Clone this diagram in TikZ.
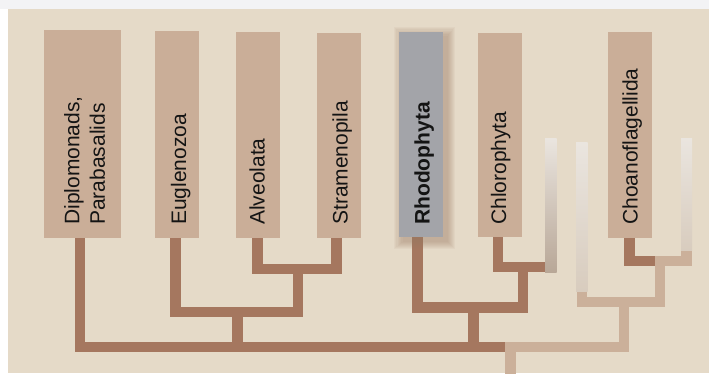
\documentclass[tikz,border=0pt]{standalone}
\usepackage{fontspec}
\setmainfont{Liberation Sans}
\usetikzlibrary{calc}
\pgfdeclarelayer{back}
\pgfdeclarelayer{lines}
\pgfsetlayers{back,lines,main}

\definecolor{paper}{HTML}{E5DAC8}
\definecolor{strip}{HTML}{F3F3F5}
\definecolor{boxfill}{HTML}{CAAE98}
\definecolor{rhodofill}{HTML}{A3A4A9}
\definecolor{branchc}{HTML}{A5775F}
\definecolor{faintc}{HTML}{CBB09A}
\definecolor{fadetop}{HTML}{EAE5DF}
\definecolor{fadedark}{HTML}{B8A797}
\definecolor{fadelight}{HTML}{D8CCBE}
\definecolor{shadowc}{HTML}{9C7A62}
\definecolor{ink}{HTML}{141414}

\begin{document}
\begin{tikzpicture}[x=1pt,y=-1pt,
  taxon/.style={fill=boxfill, inner sep=0pt, anchor=north west},
  taxonname/.style={inner sep=0pt, rotate=90, text=ink,
    font=\fontsize{21}{25.5}\selectfont},
  branch/.style={draw=branchc, line width=10.6pt},
  faint/.style={draw=faintc, line width=10.6pt}]

% page and paper
\useasboundingbox (0,0) rectangle (709,373);
\begin{pgfonlayer}{back}
  \fill[white] (0,0) rectangle (709,373);
  \fill[strip] (0,0) rectangle (709,9);
  \fill[paper] (8,9) rectangle (709,373);
\end{pgfonlayer}

% taxon boxes
\node[taxon, minimum width=77pt, minimum height=208pt] (b1) at (44,30) {};
\node[taxon, minimum width=44pt, minimum height=207pt] (b2) at (155,31) {};
\node[taxon, minimum width=44pt, minimum height=206pt] (b3) at (236,32) {};
\node[taxon, minimum width=44pt, minimum height=205pt] (b4) at (317,33) {};
\node[taxon, fill=rhodofill, minimum width=44pt, minimum height=205pt] (b5) at (399,32) {};
\node[taxon, minimum width=44pt, minimum height=204pt] (b6) at (478,33) {};
\node[taxon, minimum width=44pt, minimum height=206pt] (b7) at (608,32) {};

% taxon names
\node[taxonname, anchor=north west, align=left] (t1) at (64,225) {Diplomonads,\\Parabasalids};
\node[taxonname, anchor=base west] (t2) at (186,225) {Euglenozoa};
\node[taxonname, anchor=base west] (t3) at (264.5,225) {Alveolata};
\node[taxonname, anchor=base west] (t4) at (347.5,225) {Stramenopila};
\node[taxonname, anchor=base west, font=\fontsize{21}{25.5}\selectfont\bfseries] (t5) at (429.5,225) {Rhodophyta};
\node[taxonname, anchor=base west] (t6) at (506,225) {Chlorophyta};
\node[taxonname, anchor=base west] (t7) at (637.5,225) {Choanoflagellida};

% branching points
\coordinate (rootjoin) at (505,347);
\coordinate (root) at (510.3,374);
\coordinate (c234) at (237.5,312);
\coordinate (c34) at (298,269);
\coordinate (c56) at (473.5,307.5);
\coordinate (c6x) at (523,267);
\coordinate (cL) at (624,302);
\coordinate (cR) at (660,261);
\coordinate (g1) at (545,267);
\coordinate (g2) at (581.8,291.7);
\coordinate (g3) at (686.5,250.7);

\begin{pgfonlayer}{lines}
  % fading lineages
  \shade[top color=fadetop, bottom color=fadedark] (545,138.3) rectangle (556.7,272.7);
  \shade[top color=fadetop, bottom color=fadelight] (576,142.7) rectangle (587.7,291.7);
  \shade[top color=fadetop, bottom color=fadelight] (681,138.3) rectangle (692,250.7);

  % tree
  \draw[branch] ([xshift=-2.8pt]b1.south) |- (rootjoin);
  \draw[branch] (c234) -- (c234 |- rootjoin);
  \draw[branch] ([xshift=-2pt]b2.south) |- (c34 |- c234) -- (c34);
  \draw[branch] ([xshift=-1pt]b3.south) |- (c34) -| ([xshift=-3pt]b4.south);
  \draw[branch] ([xshift=-4pt]b5.south) |- (c6x |- c56) -- (c6x);
  \draw[branch] ([xshift=-2.3pt]b6.south) |- (g1);
  \draw[branch] (c56) -- (c56 |- rootjoin);
  \draw[branch] ([xshift=-1pt]b7.south) |- (655,261);
  \draw[faint] (rootjoin) -| (cL);
  \draw[faint] (root) -- (root |- rootjoin);
  \draw[faint] (g2) |- (cR |- cL) -- (cR) -| (g3);

  % soft shadow of the highlighted box
  \foreach \i in {1,...,8}
    \fill[shadowc, opacity=0.065]
      ($(b5.north west)+(5-1.3*\i,5-1.3*\i)$) rectangle ($(b5.south east)+(4+1.0*\i,4+1.0*\i)$);
\end{pgfonlayer}
\end{tikzpicture}
\end{document}
